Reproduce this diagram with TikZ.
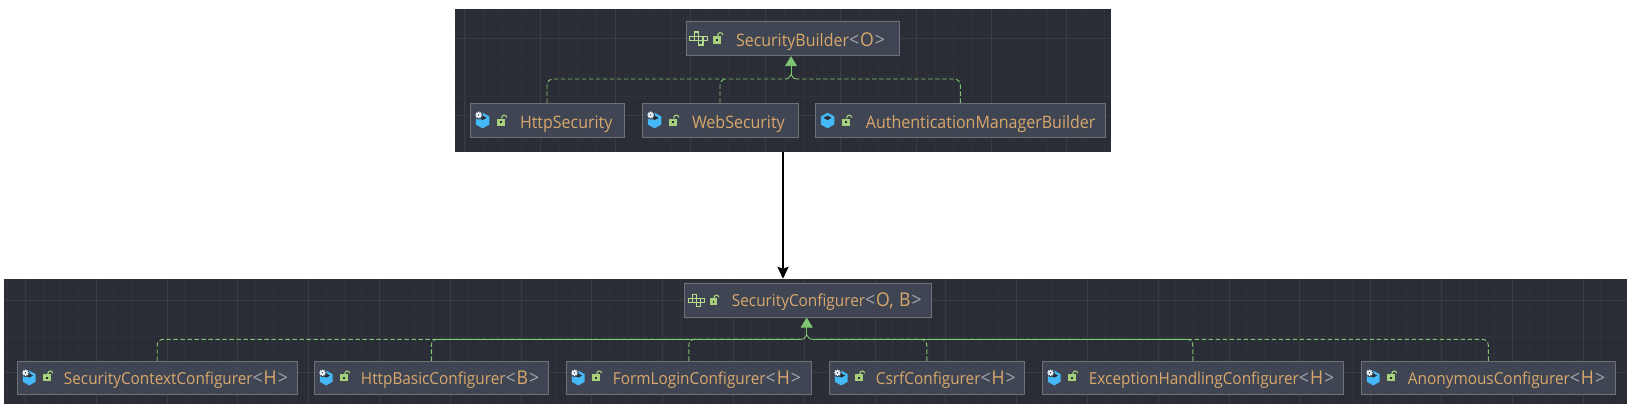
\documentclass[tikz,border=0pt]{standalone}
\usepackage{xcolor}
\usepackage{fontspec}
\setmainfont[FakeStretch=0.93]{Open Sans}
\usepackage{tikz}
\usetikzlibrary{arrows.meta}
\usetikzlibrary{positioning}

\definecolor{panelbg}{HTML}{2A2D35}
\definecolor{gridmajor}{HTML}{3A3C3E}
\definecolor{gridminor}{HTML}{2F3238}
\definecolor{boxfill}{HTML}{3F4552}
\definecolor{boxline}{HTML}{6E7276}
\definecolor{nameorange}{HTML}{D9A86C}
\definecolor{anglegray}{HTML}{A4A8AE}
\definecolor{linkgreen}{HTML}{7FC673}
\definecolor{cubeblue}{HTML}{45B9F7}
\definecolor{lockgreen}{HTML}{A6D07A}
\definecolor{plusgreen}{HTML}{B6DC8D}

\newcommand{\gen}[1]{{\fontsize{19}{19}\selectfont{\color{anglegray}<\kern1pt}#1{\color{anglegray}\kern1pt>}}}

\tikzset{
  panel/.style={fill=panelbg,draw=none,inner sep=0pt},
  classbox/.style={fill=boxfill,draw=boxline,line width=0.8pt,inner sep=0pt,
    text=nameorange,align=left},
  topbox/.style={classbox,minimum height=34.5pt,text height=17pt,text depth=2pt,font=\fontsize{17.2}{19}\selectfont},
  lowbox/.style={classbox,minimum height=33.5pt,text height=15.5pt,text depth=2pt,font=\fontsize{16.5}{19}\selectfont},
  realize/.style={draw=linkgreen,line width=0.9pt,dash pattern=on 4.5pt off 2.5pt,rounded corners=6pt},
  realizeline/.style={draw=linkgreen,line width=0.9pt},
  realizetip/.style={realizeline,-{Triangle[width=12pt,length=10pt]}},
  pics/cubeicon/.style={code={
    \fill[cubeblue] (0,-7.8) -- (6.8,-4) -- (6.8,4) -- (0,7.8) -- (-6.8,4) -- (-6.8,-4) -- cycle;
    \fill[panelbg] (0,-4.8) -- (4,-2.6) -- (0,-0.4) -- (-4,-2.6) -- cycle;
  }},
  pics/gearmark/.style={code={
    \fill[boxfill] (-4,-5.5) circle (4.6);
    \draw[white!90!cubeblue,line width=1.4pt] (-4,-8.8) -- (-4,-2.2) (-7.3,-5.5) -- (-0.7,-5.5) (-6.3,-7.8) -- (-1.7,-3.2) (-6.3,-3.2) -- (-1.7,-7.8);
    \fill[boxfill] (-4,-5.5) circle (0.8);
  }},
  pics/lockicon/.style={code={
    \fill[lockgreen] (-4.2,-3.5) rectangle (4.2,4.2);
    \fill[panelbg] (-1,-0.8) rectangle (1,1.2);
    \draw[lockgreen,line width=1.1pt] (0.5,-3.5) .. controls (0.5,-7.8) and (5.2,-7.8) .. (5.8,-4.5);
  }},
  pics/plusicon/.style={code={
    \foreach \cx/\cy in {-4.4/-6.6,-4.4/-2.2,-8.8/-2.2,0/-2.2,4.4/-2.2,0/2.2} {
      \draw[plusgreen,line width=1.3pt] (\cx,\cy) rectangle ++(4.4,4.4);
    }
  }}
}

\begin{document}
\begin{tikzpicture}[x=1pt,y=-1pt]
\useasboundingbox (0,0) rectangle (1631,410);

\node at (783,80.5) [panel,minimum width=656pt,minimum height=143pt] (builderpanel) {};
\node at (815.5,341.5) [panel,minimum width=1623pt,minimum height=125pt] (configurerpanel) {};

\begin{scope}
\clip (builderpanel.south west) rectangle (builderpanel.north east);
\foreach \gx in {446.1,464.9,...,1112} {\draw[gridminor,line width=0.7pt] (\gx,9) -- (\gx,152);}
\foreach \gy in {19.05,38.3,...,152} {\draw[gridminor,line width=0.7pt] (455,\gy) -- (1111,\gy);}
\foreach \gx in {464.7,539.9,...,1112} {\draw[gridmajor,line width=0.8pt] (\gx,9) -- (\gx,152);}
\foreach \gy in {38.3,115.3} {\draw[gridmajor,line width=0.8pt] (455,\gy) -- (1111,\gy);}
\end{scope}
\begin{scope}
\clip (configurerpanel.south west) rectangle (configurerpanel.north east);
\foreach \gx in {7.6,25.3,...,1628} {\draw[gridminor,line width=0.7pt] (\gx,279) -- (\gx,404);}
\foreach \gy in {282.8,300.7,...,404} {\draw[gridminor,line width=0.7pt] (4,\gy) -- (1627,\gy);}
\foreach \gx in {25.3,96.1,...,1628} {\draw[gridmajor,line width=0.8pt] (\gx,279) -- (\gx,404);}
\foreach \gy in {300.7,372.3} {\draw[gridmajor,line width=0.8pt] (4,\gy) -- (1627,\gy);}
\end{scope}

\node at (792.5,38.5) [topbox,text width=213pt] (securitybuilder) {\hspace*{50pt}SecurityBuilder\gen{O}};
\node at (547,120.5) [topbox,text width=154pt] (httpsecurity) {\hspace*{50pt}HttpSecurity};
\node at (720,120.5) [topbox,text width=156pt] (websecurity) {\hspace*{50pt}WebSecurity};
\node at (960.3,120.5) [topbox,text width=290.7pt] (authbuilder) {\hspace*{51pt}AuthenticationManagerBuilder};

\node at (807.8,300.4) [lowbox,text width=247.7pt,text height=15pt] (securityconfigurer) {\hspace*{48pt}SecurityConfigurer\gen{O, B}};
\node at (157.2,378) [lowbox,text width=280.5pt] (contextconfigurer) {\hspace*{47pt}SecurityContextConfigurer\gen{H}};
\node at (431.3,378) [lowbox,text width=234.7pt] (basicconfigurer) {\hspace*{47pt}HttpBasicConfigurer\gen{B}};
\node at (688.8,378) [lowbox,text width=245.7pt] (formconfigurer) {\hspace*{47pt}FormLoginConfigurer\gen{H}};
\node at (926.8,378) [lowbox,text width=195.7pt] (csrfconfigurer) {\hspace*{47pt}CsrfConfigurer\gen{H}};
\node at (1192.8,378) [lowbox,text width=301.7pt] (exceptionconfigurer) {\hspace*{47pt}ExceptionHandlingConfigurer\gen{H}};
\node at (1488.3,378) [lowbox,text width=254.7pt] (anonymousconfigurer) {\hspace*{47pt}AnonymousConfigurer\gen{H}};

\foreach \boxname in {httpsecurity,websecurity,authbuilder} {
  \pic at ([shift={(13,0)}]\boxname.west) {cubeicon};
  \pic at ([shift={(31.5,1.5)}]\boxname.west) {lockicon};
}
\foreach \boxname in {httpsecurity,websecurity} {
  \pic at ([shift={(13,0)}]\boxname.west) {gearmark};
}
\foreach \boxname in {contextconfigurer,basicconfigurer,formconfigurer,csrfconfigurer,exceptionconfigurer,anonymousconfigurer} {
  \pic[scale=0.95] at ([shift={(12.7,0)}]\boxname.west) {cubeicon};
  \pic[scale=0.95] at ([shift={(12.7,0)}]\boxname.west) {gearmark};
  \pic[scale=0.95] at ([shift={(30.7,-0.5)}]\boxname.west) {lockicon};
}
\pic at ([shift={(13,0)}]securitybuilder.west) {plusicon};
\pic at ([shift={(31.5,1)}]securitybuilder.west) {lockicon};
\pic[scale=0.92] at ([shift={(13,0)}]securityconfigurer.west) {plusicon};
\pic[scale=0.92] at ([shift={(30,1)}]securityconfigurer.west) {lockicon};

\coordinate (builderjoin) at (791,79);
\coordinate (builderstem) at (791,74.5);
\coordinate (builderleft) at (785,79);
\coordinate (builderright) at (797,79);
\coordinate (webbend) at (726,79);
\coordinate (configurerjoin) at (806.7,339.3);
\coordinate (configurerstem) at (806.7,334.8);
\coordinate (configurerleft) at (800.7,339.3);
\coordinate (configurerright) at (812.7,339.3);

\draw[realize] (httpsecurity.north) |- (builderleft);
\draw[realize] (websecurity.north) |- (webbend);
\draw[realize] (authbuilder.north) |- (builderright);
\draw[realizeline] (builderleft) .. controls (788,79) .. (builderstem);
\draw[realizeline] (builderright) .. controls (794,79) .. (builderstem);
\draw[realizetip] (builderstem) -- (builderstem |- securitybuilder.south);

\draw[realize] (contextconfigurer.north) |- (configurerleft);
\draw[realize] (basicconfigurer.north) |- (configurerleft);
\draw[realize] (formconfigurer.north) |- (configurerleft);
\draw[realize] (csrfconfigurer.north) |- (configurerright);
\draw[realize] (exceptionconfigurer.north) |- (configurerright);
\draw[realize] (anonymousconfigurer.north) |- (configurerright);
\draw[realizeline] ([xshift=5pt]basicconfigurer.north |- configurerjoin) -- (configurerleft);
\draw[realizeline] ([xshift=-5pt]exceptionconfigurer.north |- configurerjoin) -- (configurerright);
\draw[realizeline] (configurerleft) .. controls (803.7,339.3) .. (configurerstem);
\draw[realizeline] (configurerright) .. controls (809.7,339.3) .. (configurerstem);
\draw[realizetip] (configurerstem) -- (configurerstem |- securityconfigurer.south);

\draw[black,line width=2.2pt,-{Stealth[width=11pt,length=12pt,inset=2pt]}] (builderpanel.south) -- (builderpanel.south |- configurerpanel.north);
\end{tikzpicture}
\end{document}
